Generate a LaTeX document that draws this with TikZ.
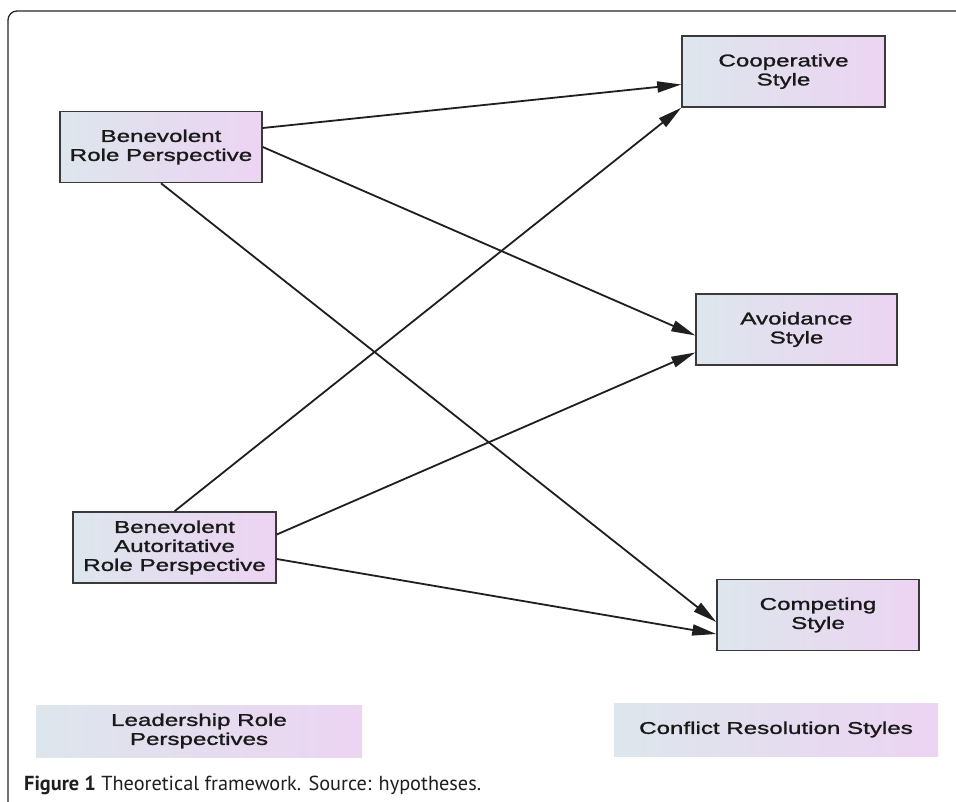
\documentclass[tikz,border=0pt]{standalone}
\usepackage{fontspec}
\usetikzlibrary{arrows.meta}
\newfontfamily\boxfont[FakeStretch=1.42,FakeBold=1.4]{Liberation Sans}
\newfontfamily\capfont{PT Sans}
\definecolor{gl}{HTML}{DDE6EC}
\definecolor{gr}{HTML}{ECD4F2}
\definecolor{bd}{HTML}{3A3A3A}
\tikzset{
  box/.style={draw=bd, line width=1.5pt, left color=gl, right color=gr,
    inner sep=0pt, align=center, minimum height=71pt,
    font=\boxfont\fontsize{17}{19}\selectfont, text=black!90},
  legendbox/.style={draw=none, left color=gl, right color=gr,
    inner sep=0pt, align=center,
    font=\boxfont\fontsize{17}{19}\selectfont, text=black!90},
  conn/.style={line width=1.8pt, draw=black!88,
    -{Triangle[length=24pt,width=11pt]}}
}
\begin{document}
\begin{tikzpicture}[x=1pt,y=-1pt]
\clip (0,0) rectangle (956,802);
\fill[white] (0,0) rectangle (956,802);
\draw[line width=1.3pt, draw=black!85, rounded corners=9pt] (8,11) rectangle (980,830);

\node[box, minimum width=202pt] (brp) at (161,147) {Benevolent\\Role Perspective};
\node[box, minimum width=203pt] (barp) at (174.5,547.5) {Benevolent\\Autoritative\\Role Perspective};
\node[box, minimum width=203pt] (coop) at (783.5,71.5) {Cooperative\\Style};
\node[box, minimum width=201pt] (avoid) at (796.5,329.5) {Avoidance\\Style};
\node[box, minimum width=202pt] (comp) at (818,615) {Competing\\Style};

\node[legendbox, minimum width=326pt, minimum height=52pt] (lrp) at (199,731) {Leadership Role\\Perspectives};
\node[legendbox, minimum width=324pt, minimum height=53pt] (crs) at (776,729.5) {Conflict Resolution Styles};

\draw[conn] ([yshift=19pt]brp.east) -- ([yshift=-13pt]coop.west);
\draw[conn] (brp.east) -- ([yshift=-6pt]avoid.west);
\draw[conn] (brp.south) -- ([yshift=-7pt]comp.west);
\draw[conn] (barp.north) -- (coop.south west);
\draw[conn] ([yshift=13pt]barp.east) -- ([yshift=-23pt]avoid.west);
\draw[conn] ([yshift=-11.5pt]barp.east) -- ([yshift=-19pt]comp.west);

\node[anchor=west, inner sep=0pt, text=black!88, font=\capfont\fontsize{20.3}{24}\selectfont] (cap) at (24,785)
  {\textbf{Figure 1} Theoretical framework. Source: hypotheses.};
\end{tikzpicture}
\end{document}
